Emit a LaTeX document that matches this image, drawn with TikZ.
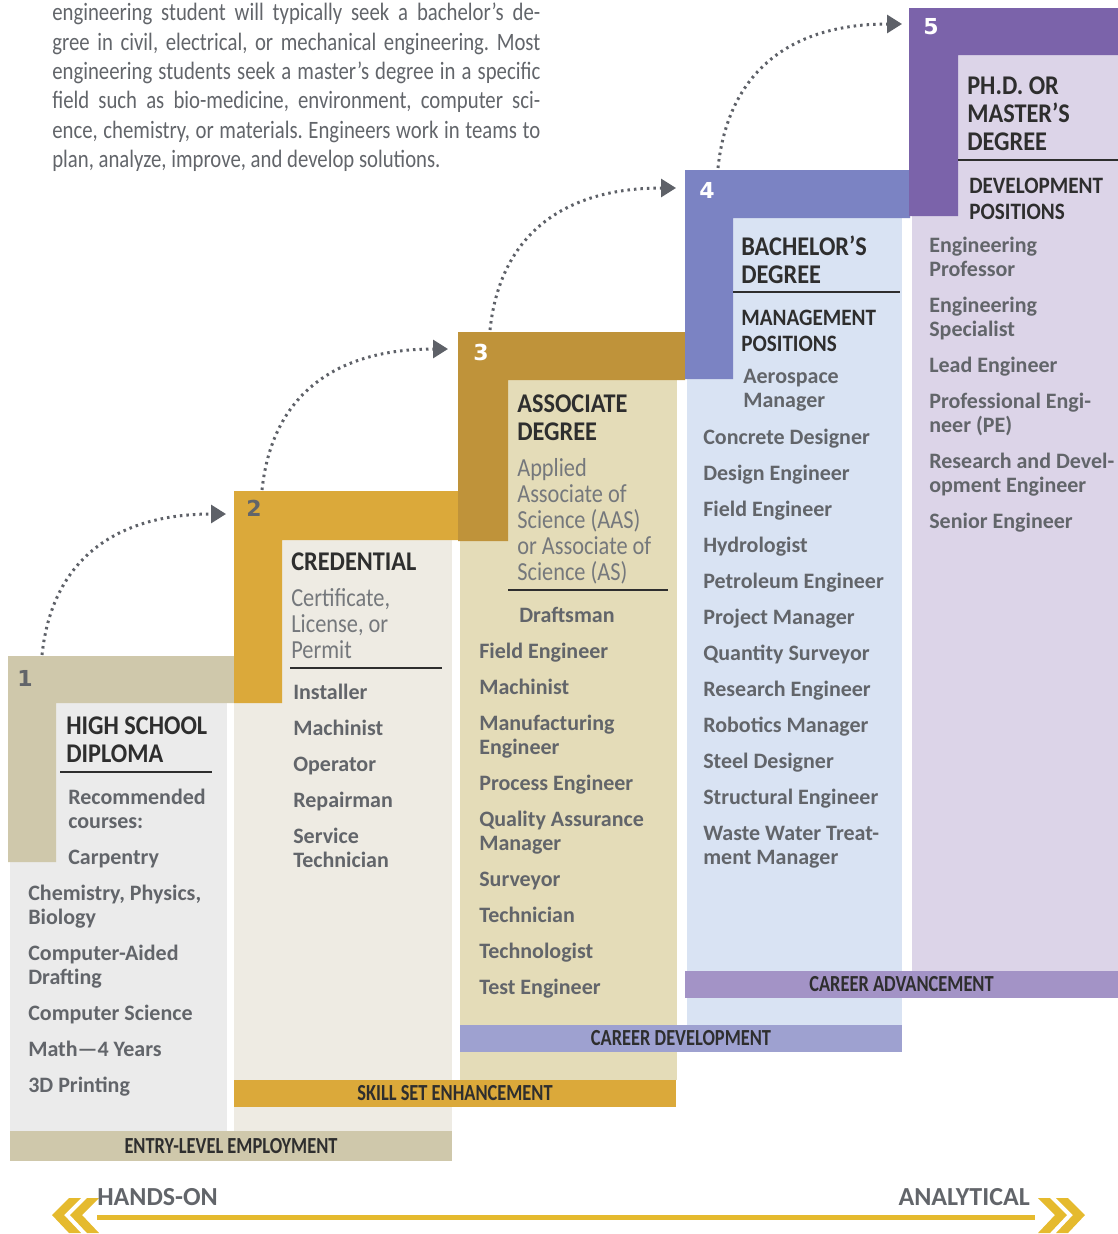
\documentclass[tikz,border=0pt]{standalone}
\usepackage{fontspec}
\setmainfont{Carlito}
\newfontfamily\titlefont{Carlito}[FakeStretch=0.9]
\newfontfamily\notefont{Carlito}[FakeStretch=0.86]
\newfontfamily\introfont{Carlito}[FakeStretch=0.83]
\newfontfamily\barfont{Carlito}[FakeStretch=0.8]
\newfontfamily\numfont{DejaVu Sans}
\usetikzlibrary{arrows.meta}
\usepackage{xcolor}
\frenchspacing
\definecolor{tanhead}{HTML}{CFC8AB}
\definecolor{graybody}{HTML}{EBEBEB}
\definecolor{goldhead}{HTML}{DBA93A}
\definecolor{goldbody}{HTML}{EEEBE3}
\definecolor{ochrehead}{HTML}{BF933A}
\definecolor{ochrebody}{HTML}{E4DCB8}
\definecolor{bluehead}{HTML}{7B83C3}
\definecolor{bluebody}{HTML}{D9E3F3}
\definecolor{bluebar}{HTML}{9EA1D0}
\definecolor{violethead}{HTML}{7B63AA}
\definecolor{violetbody}{HTML}{DCD4E8}
\definecolor{violetbar}{HTML}{A393C6}
\definecolor{titlegray}{HTML}{2E2E2E}
\definecolor{itemgray}{HTML}{62656A}
\definecolor{notegray}{HTML}{75787C}
\definecolor{dotgray}{HTML}{5E6168}
\definecolor{ruleyellow}{HTML}{E5BA2E}

\tikzset{ title/.style = {anchor=north west, align=left, inner sep=0pt, text=titlegray,
                          font=\titlefont\bfseries\fontsize{27}{28}\selectfont}
        , sub/.style   = {title, font=\titlefont\bfseries\fontsize{23.5}{26}\selectfont}
        , note/.style  = {anchor=north west, align=left, inner sep=0pt, text=notegray,
                          font=\notefont\fontsize{26}{26}\selectfont}
        , item/.style  = {anchor=north west, align=left, inner sep=0pt, text=itemgray,
                          font=\bfseries\fontsize{22}{24}\selectfont}
        , num/.style   = {anchor=center, inner sep=0pt, font=\numfont\bfseries\fontsize{22}{22}\selectfont}
        , bar/.style   = {inner sep=0pt, text=titlegray,
                          font=\barfont\bfseries\fontsize{23}{23}\selectfont}
        , divider/.style = {line width=2pt, draw=titlegray}
        , lift/.style  = {line width=3pt, draw=dotgray, dash pattern=on 2.5pt off 4pt,
                          -{Triangle[length=15pt,width=18pt]}}
        }

\begin{document}
\begin{tikzpicture}[ x=1pt, y=-1pt
                   , semithick
                   ]
      \useasboundingbox (0,0) rectangle (1118,1234);

      % step bodies
      \fill [violetbody] (912,55) rectangle (1118,971);
      \fill [bluebody] (687,218) rectangle (902,1025);
      \fill [ochrebody] (460,380) rectangle (677,1080);
      \fill [goldbody] (234,540) rectangle (452,1131);
      \fill [graybody] (10,703) rectangle (227,1131);

      % headers with their left strips
      \fill [tanhead] (8,656) rectangle (234,703) (8,703) rectangle (56,862);
      \fill [goldhead] (234,491) rectangle (458,540) (234,540) rectangle (282,703);
      \fill [ochrehead] (458,332) rectangle (685,380) (458,380) rectangle (508,541);
      \fill [bluehead] (685,170) rectangle (910,218) (685,218) rectangle (733,379);
      \fill [violethead] (909,8) rectangle (1118,55) (909,55) rectangle (958,216);

      % bottom bars
      \node (entry) [bar, fill=tanhead, minimum width=442pt, minimum height=30pt] at (231,1146) {ENTRY-LEVEL EMPLOYMENT};
      \node (skill) [bar, fill=goldhead, minimum width=442pt, minimum height=27pt] at (455,1093.5) {SKILL SET ENHANCEMENT};
      \node (develop) [bar, fill=bluebar, minimum width=442pt, minimum height=27pt] at (681,1038.5) {CAREER DEVELOPMENT};
      \node (advance) [bar, fill=violetbar, minimum width=433pt, minimum height=27pt] at (901.5,984.5) {CAREER ADVANCEMENT};

      % step numbers
      \node (num1) [num, text=itemgray] at (25,678) {1};
      \node (num2) [num, text=itemgray] at (254,508) {2};
      \node (num3) [num, text=white] at (481,352) {3};
      \node (num4) [num, text=white] at (707,190) {4};
      \node (num5) [num, text=white] at (931,27) {5};

      % step 1
      \node (hs) [title] at (66,716) {HIGH SCHOOL\\DIPLOMA};
      \draw [divider] (60,772) -- (212,772);
      \node (hsrec) [item] at (68,789) {Recommended\\courses:\\[12pt]Carpentry};
      \node (hslist) [item] at (28,885) {Chemistry, Physics,\\Biology\\[12pt]Computer-Aided\\Drafting\\[12pt]Computer Science\\[12pt]Math—4 Years\\[12pt]3D Printing};

      % step 2
      \node (cred) [title] at (291,552) {CREDENTIAL};
      \node (crednote) [note] at (291,588) {Certificate,\\License, or\\Permit};
      \draw [divider] (290,668) -- (442,668);
      \node (credlist) [item] at (293,684) {Installer\\[12pt]Machinist\\[12pt]Operator\\[12pt]Repairman\\[12pt]Service\\Technician};

      % step 3
      \node (assoc) [title] at (517,394) {ASSOCIATE\\DEGREE};
      \node (assocnote) [note] at (517,458) {Applied\\Associate of\\Science (AAS)\\or Associate of\\Science (AS)};
      \draw [divider] (508,590) -- (668,590);
      \node (assocfirst) [item] at (519,607) {Draftsman};
      \node (assoclist) [item] at (479,643) {Field Engineer\\[12pt]Machinist\\[12pt]Manufacturing\\Engineer\\[12pt]Process Engineer\\[12pt]Quality Assurance\\Manager\\[12pt]Surveyor\\[12pt]Technician\\[12pt]Technologist\\[12pt]Test Engineer};

      % step 4
      \node (bach) [title] at (741,236) {BACHELOR’S\\DEGREE};
      \draw [divider] (733,292) -- (900,292);
      \node (manage) [sub] at (741,310) {MANAGEMENT\\POSITIONS};
      \node (bachfirst) [item] at (743,369) {Aerospace\\Manager};
      \node (bachlist) [item] at (703,429) {Concrete Designer\\[12pt]Design Engineer\\[12pt]Field Engineer\\[12pt]Hydrologist\\[12pt]Petroleum Engineer\\[12pt]Project Manager\\[12pt]Quantity Surveyor\\[12pt]Research Engineer\\[12pt]Robotics Manager\\[12pt]Steel Designer\\[12pt]Structural Engineer\\[12pt]Waste Water Treat-\\ment Manager};

      % step 5
      \node (phd) [title] at (967,76) {PH.D. OR\\MASTER’S\\DEGREE};
      \draw [divider] (958,160) -- (1118,160);
      \node (devpos) [sub] at (969,178) {DEVELOPMENT\\POSITIONS};
      \node (phdlist) [item] at (929,237) {Engineering\\Professor\\[12pt]Engineering\\Specialist\\[12pt]Lead Engineer\\[12pt]Professional Engi-\\neer (PE)\\[12pt]Research and Devel-\\opment Engineer\\[12pt]Senior Engineer};

      % intro text
      \node (intro) [anchor=north west, inner sep=0pt, text width=488pt, align=justify, text=itemgray,
                     font=\introfont\fontsize{25}{29.3}\selectfont] at (52,3)
            {engineering student will typically seek a bachelor’s de-\linebreak
             gree in civil, electrical, or mechanical engineering. Most\linebreak
             engineering students seek a master’s degree in a specific\linebreak
             field such as bio-medicine, environment, computer sci-\linebreak
             ence, chemistry, or materials. Engineers work in teams to\linebreak
             plan, analyze, improve, and develop solutions.};

      % dotted lifts between the steps
      \coordinate (top1) at (42,655);
      \coordinate (end2) at (226,514);
      \coordinate (top2) at (262,490);
      \coordinate (end3) at (448,349);
      \coordinate (top3) at (490,330);
      \coordinate (end4) at (676,188);
      \coordinate (top4) at (718,168);
      \coordinate (end5) at (902,24);
      \draw [lift] (top1) .. controls (52,560) and (115,514) .. (end2);
      \draw [lift] (top2) .. controls (272,395) and (335,349) .. (end3);
      \draw [lift] (top3) .. controls (500,235) and (563,188) .. (end4);
      \draw [lift] (top4) .. controls (728,72) and (790,24) .. (end5);

      % hands-on to analytical scale
      \coordinate (handsend) at (97,1217);
      \coordinate (analend) at (1035,1217);
      \draw [line width=5pt, draw=ruleyellow] (handsend) -- (analend);
      \foreach \x in {52,70}
        \fill [ruleyellow] (\x,1215) -- (\x+17,1198) -- (\x+29,1198) -- (\x+12,1215)
                           -- (\x+29,1233) -- (\x+17,1233) -- cycle;
      \foreach \x in {1085,1067}
        \fill [ruleyellow] (\x,1215) -- (\x-17,1198) -- (\x-29,1198) -- (\x-12,1215)
                           -- (\x-29,1233) -- (\x-17,1233) -- cycle;
      \node (hands) [anchor=west, inner sep=0pt, text=itemgray, font=\bfseries\fontsize{26}{26}\selectfont] at (97,1197) {HANDS-ON};
      \node (anal) [anchor=east, inner sep=0pt, text=itemgray, font=\bfseries\fontsize{26}{26}\selectfont] at (1030,1197) {ANALYTICAL};

  \end{tikzpicture}
\end{document}
